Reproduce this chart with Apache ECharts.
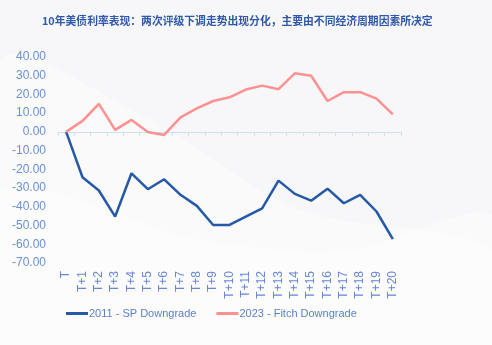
<!DOCTYPE html>
<html><head><meta charset="utf-8">
<script src="https://cdn.jsdelivr.net/npm/echarts@6/dist/echarts.min.js"></script>
<style>html,body{margin:0;padding:0;background:#f7f7f9}#c{width:492px;height:345px}</style>
</head><body><div id="c"></div>
<script>
const titleText = '10年美债利率表现：两次评级下调走势出现分化，主要由不同经济周期因素所决定';
const categories = ['T','T+1','T+2','T+3','T+4','T+5','T+6','T+7','T+8','T+9','T+10','T+11','T+12','T+13','T+14','T+15','T+16','T+17','T+18','T+19','T+20'];
const series2011 = [0,-24.2,-31.3,-45.2,-22.1,-30.6,-25.3,-33.6,-39.5,-49.7,-49.7,-45.2,-40.8,-26.0,-33.1,-36.7,-30.3,-38.1,-33.6,-42.5,-57.3];
const series2023 = [0,5.9,15.0,1.1,6.4,0,-1.6,7.8,12.6,16.5,18.5,22.6,24.7,22.8,31.3,30.0,16.5,21.2,21.2,17.8,9.4];
const name2011 = '2011 - SP Downgrade';
const name2023 = '2023 - Fitch Downgrade';

const chart = echarts.init(document.getElementById('c'));
chart.setOption({
  backgroundColor: '#f7f7f9',
  animation: false,
  graphic: [
    {type:'polygon', z:-10, silent:true, shape:{smooth:0.3, points:[[0,60],[150,120],[300,210],[492,250],[492,345],[0,345]]}, style:{fill:'rgba(255,255,255,0.35)'}},
    {type:'polygon', z:-10, silent:true, shape:{smooth:0.3, points:[[0,190],[200,240],[350,250],[492,215],[492,345],[0,345]]}, style:{fill:'rgba(255,255,255,0.35)'}}
  ],
  title: {
    text: titleText, left: 37, top: 11,
    textStyle: {fontSize: 10.8, fontWeight: 'bold', color: '#2f58a8', fontFamily: 'Noto Sans CJK SC'}
  },
  legend: {
    bottom: 21, left: 61, itemGap: 20, itemWidth: 22, itemHeight: 3,
    icon: 'rect',
    textStyle: {color: '#5b80c9', fontSize: 11, fontFamily: 'Liberation Sans', padding:[0,0,0,-4]},
    data: [name2011, name2023]
  },
  grid: {left: 58, right: 91, top: 57, bottom: 82},
  xAxis: {
    type: 'category', data: categories, boundaryGap: true,
    axisLine: {lineStyle: {color: '#cddff3'}},
    axisTick: {show: true, length: 4, lineStyle: {color: '#cddff3'}},
    axisLabel: {rotate: 90, color: '#6a86d6', fontSize: 12, fontFamily: 'Liberation Sans', margin: 8}
  },
  yAxis: {
    type: 'value', min: -70, max: 40, interval: 10,
    splitLine: {show: false}, axisLine: {show: false}, axisTick: {show: false},
    axisLabel: {formatter: v => v.toFixed(2), color: '#6a8fd4', fontSize: 12, fontFamily: 'Liberation Sans', margin: 12}
  },
  series: [
    {name: name2011, type: 'line', data: series2011, symbol: 'none', lineStyle: {width: 2.5, color: '#2559a8'}, itemStyle:{color:'#2559a8'}},
    {name: name2023, type: 'line', data: series2023, symbol: 'none', lineStyle: {width: 2.5, color: '#ff9191'}, itemStyle:{color:'#ff9191'}}
  ]
});
</script></body></html>
